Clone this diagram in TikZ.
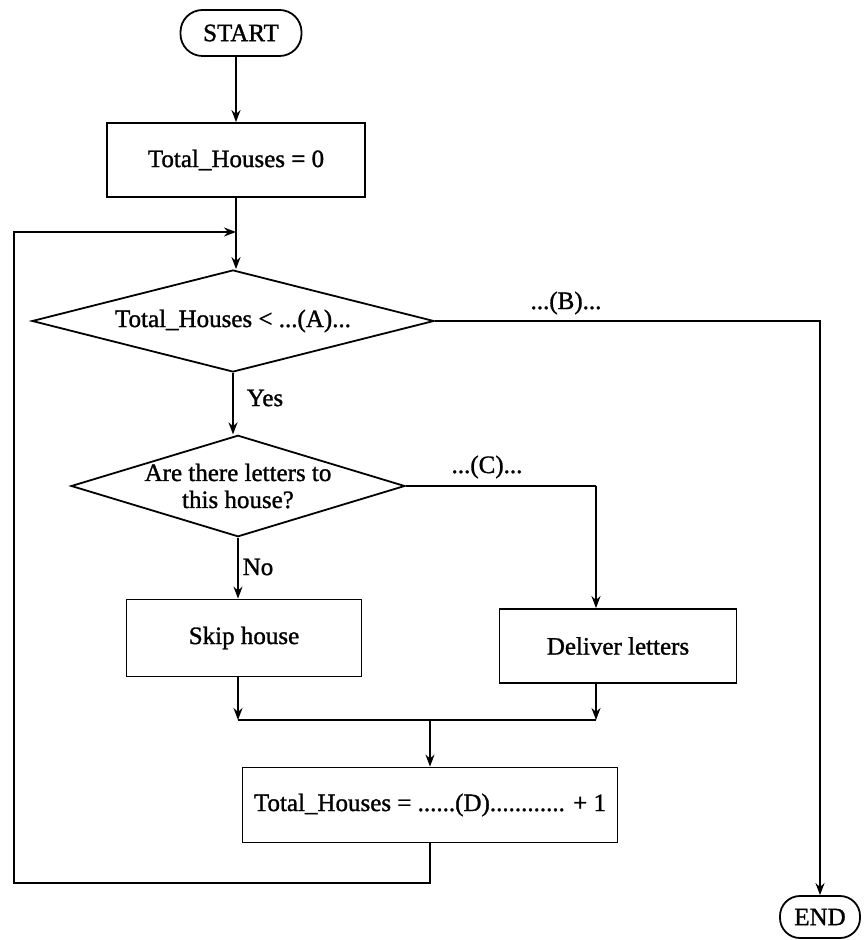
\documentclass[tikz,border=0pt]{standalone}
\usepackage{fontspec}
\setmainfont[FakeBold=1.2]{Liberation Serif}
\usetikzlibrary{shapes.geometric,arrows.meta}
\begin{document}
\begin{tikzpicture}[x=0.5pt, y=-0.5pt, line width=0.9pt, >={Stealth[length=6pt,width=4.5pt]},
  every node/.style={font=\fontsize{12.5}{13.5}\selectfont}]
  \tikzstyle{terminal}=[draw,rounded corners=11pt,minimum height=23pt]
  \tikzstyle{process}=[draw,minimum height=37pt]
  \tikzstyle{decision}=[draw,diamond,inner sep=0pt,align=center]
  \useasboundingbox (0,0) rectangle (863,940);
  \node[terminal,minimum width=60.5pt] (start) at (241,33) {START};
  \node[process,minimum width=129pt] (init) at (236,160) {Total\_Houses = 0};
  \node[decision,minimum width=201pt,minimum height=51pt,aspect=3.94] (more) at (233,321) {Total\_Houses < ...(A)...};
  \node[decision,minimum width=161pt,minimum height=49pt,aspect=3.29] (check) at (238,486) {Are there letters to\\this house?};
  \node[process,minimum width=117.5pt,minimum height=38.5pt] (skip) at (244,638) {Skip house};
  \node[process,minimum width=118.5pt] (deliver) at (618,646) {Deliver letters};
  \node[process,minimum width=187.5pt,minimum height=37.5pt] (upd) at (430,805) {Total\_Houses = ......(D)............ + 1};
  \node[terminal,rounded corners=10pt,minimum width=40pt,minimum height=21pt] (end) at (820,917) {END};
  % labels
  \node (lb) at (566,303) {...(B)...};
  \node (lc) at (487,467) {...(C)...};
  \node (lyes) at (265,398) {Yes};
  \node (lno) at (258,567) {No};
  % junctions
  \coordinate (join) at (236,232);
  \coordinate (loopc) at (14,883);
  \coordinate (cright) at (596,486);
  \coordinate (mergeL) at (238,720);
  \coordinate (mergeR) at (596,720);
  \coordinate (merge) at (430,720);
  % connectors
  \draw[->] (init.north |- start.south) -- (init);
  \draw[->] (init) -- (init.north |- more.north);
  \draw[->] (more.east) -| (end.north);
  \draw[->] (more.south) -- (more.south |- check.north);
  \draw (check.east) -- (cright);
  \draw[->] (cright) -- (cright |- deliver.north);
  \draw[->] (check.south) -- (check.south |- skip.north);
  \draw[->] (skip.south -| check.south) -- (mergeL);
  \draw[->] (deliver.south -| cright) -- (mergeR);
  \draw (mergeL) -- (mergeR);
  \draw[->] (merge) -- (upd);
  \draw[->] (upd.south) |- (loopc) |- (join);
\end{tikzpicture}
\end{document}
